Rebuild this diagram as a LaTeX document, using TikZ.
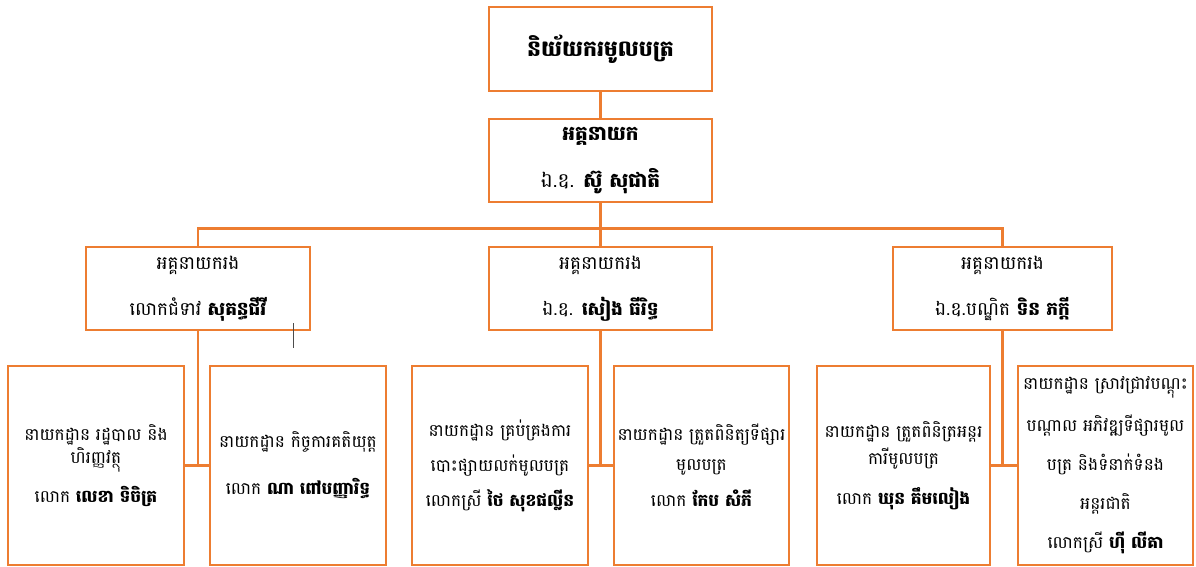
\documentclass[tikz,border=0pt]{standalone}
\usepackage{fontspec}
\newfontfamily\km[Script=Khmer]{Battambang}
\definecolor{org}{HTML}{ED7D31}
\begin{document}
\begin{tikzpicture}[x=1pt,y=-1pt,
  box/.style={draw=org, line width=2.6pt, align=center, inner sep=0pt,
    font=\km\fontsize{17}{23}\selectfont},
  midbox/.style={box, font=\km\fontsize{18.5}{24}\selectfont},
  headbox/.style={box, font=\km\fontsize{20}{24}\selectfont},
  link/.style={draw=org, line width=2.6pt},
  stray/.style={draw=black!70, line width=0.8pt}]
\useasboundingbox (0,0) rectangle (1196,567);
% top levels
\node[headbox, minimum width=223pt, minimum height=84pt] (top) at (600.5,49)
  {\bfseries\fontsize{22}{26}\selectfont និយ័យករមូលបត្រ};
\node[headbox, minimum width=223pt, minimum height=83pt] (dg) at (600.5,160.5)
  {\bfseries អគ្គនាយក\\[23pt] ឯ.ឧ. {\bfseries ស៊ូ សុជាតិ}};
% deputies
\node[midbox, minimum width=224pt, minimum height=83pt] (ml) at (198,288.5)
  {អគ្គនាយករង\\[22pt] លោកជំទាវ {\bfseries សុគន្ធជីវី}};
\node[midbox, minimum width=223pt, minimum height=83pt] (mc) at (600.5,288.5)
  {អគ្គនាយករង\\[22pt] ឯ.ឧ. {\bfseries សៀង ធីរិទ្ធ}};
\node[midbox, minimum width=219pt, minimum height=83pt] (mr) at (1002.5,288.5)
  {អគ្គនាយករង\\[22pt] ឯ.ឧ.បណ្ឌិត {\bfseries ទិន ភក្តី}};
% departments
\node[box, minimum width=176pt, minimum height=199pt] (b1) at (96,465.5)
  {នាយកដ្ឋាន រដ្ឋបាល និង\\ ហិរញ្ញវត្ថុ\\[13pt] លោក {\bfseries លេខា ទិចិត្រ}};
\node[box, minimum width=176pt, minimum height=199pt] (b2) at (298,465.5)
  {នាយកដ្ឋាន កិច្ចការគតិយុត្ត\\[24pt] លោក {\bfseries ណា ពៅបញ្ញារិទ្ធ}};
\node[box, minimum width=176pt, minimum height=199pt] (b3) at (500,465.5)
  {នាយកដ្ឋាន គ្រប់គ្រងការ\\[12pt] បោះផ្សាយលក់មូលបត្រ\\[12pt] លោកស្រី {\bfseries ថៃ សុខផល្លីន}};
\node[box, minimum width=175pt, minimum height=199pt] (b4) at (701.5,465.5)
  {នាយកដ្ឋាន ត្រួតពិនិត្យទីផ្សារ\\[7pt] មូលបត្រ\\[13pt] លោក {\bfseries កែប សំភី}};
\node[box, minimum width=173pt, minimum height=199pt] (b5) at (903.5,465.5)
  {នាយកដ្ឋាន ត្រួតពិនិត្រអន្តរ\\[4pt] ការីមូលបត្រ\\[17pt] លោក {\bfseries ឃុន គឹមលៀង}};
\node[box, minimum width=175pt, minimum height=199pt] (b6) at (1105.5,465.5)
  {នាយកដ្ឋាន ស្រាវជ្រាវបណ្តុះ\\[16pt] បណ្តាល អភិវឌ្ឍទីផ្សារមូល\\[16pt] បត្រ និងទំនាក់ទំនង\\[16pt] អន្តរជាតិ\\[16pt] លោកស្រី {\bfseries ហ៊ី លីគា}};
% connectors
\draw[link] (top.south) -- (dg.north);
\draw[link] (dg.south) -- (mc.north);
\draw[link] (ml.north) -- ++(0,-17) -| (mr.north);
\draw[link] (ml.south) -- (ml.south |- b1.east);
\draw[link] (b1.east) -- (b2.west);
\draw[link] (mc.south) -- (mc.south |- b3.east);
\draw[link] (b3.east) -- (b4.west);
\draw[link] (mr.south) -- (mr.south |- b5.east);
\draw[link] (b5.east) -- (b6.west);
% stray mark
\coordinate (s1) at (293,323);
\coordinate (s2) at (293,348);
\draw[stray] (s1) -- (s2);
\end{tikzpicture}
\end{document}
